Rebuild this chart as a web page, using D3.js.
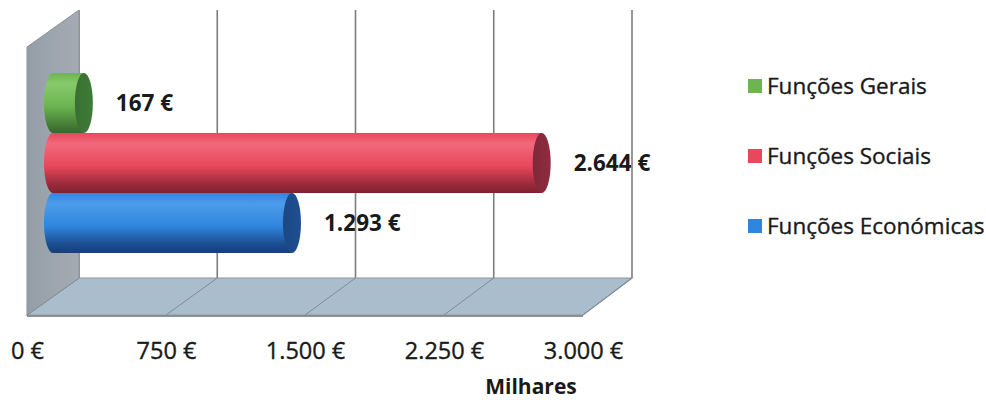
<!DOCTYPE html>
<html>
<head>
<meta charset="utf-8">
<script src="https://cdn.jsdelivr.net/npm/d3@7"></script>
<style>
  html, body { margin: 0; padding: 0; background: #fff; }
  svg { display: block; font-family: "Open Sans", "Noto Sans", sans-serif; }
</style>
</head>
<body>
<svg id="chart" width="986" height="400"></svg>
<script>
// ---- data ----
const series = ["Funções Gerais", "Funções Sociais", "Funções Económicas"];
const values = [167, 2644, 1293];
const colors = ["#6cb552", "#e8475c", "#2f86de"];
const capColors = ["#3f7c38", "#8e2c3e", "#1f4f92"];
const darkColors = ["#477f37", "#9b2a3b", "#1c4d93"];
const lightColors = ["#86c96c", "#f2697b", "#4c9ce9"];
const tickValues = [0, 750, 1500, 2250, 3000];
const axisTitle = "Milhares";

// ---- layout ----
const svg = d3.select("#chart");
const locale = d3.formatLocale({decimal: ",", thousands: ".", grouping: [3], currency: ["", " €"]});
const fmt = locale.format("$,.0f");

const backX = d3.scaleLinear().domain([0, 3000]).range([79, 632]);
const frontX = d3.scaleLinear().domain([0, 3000]).range([27, 583]);
const midX = d3.scaleLinear().domain([0, 3000]).range([53, 607.5]);
const backTop = 10, backBottom = 278, frontBottom = 315;
const y = d3.scaleBand().domain(series).range([73, 253]).paddingInner(0);
const rx = 9;

const defs = svg.append("defs");
series.forEach((s, i) => {
  const g = defs.append("linearGradient").attr("id", "grad" + i)
    .attr("x1", 0).attr("y1", 0).attr("x2", 0).attr("y2", 1);
  g.append("stop").attr("offset", "0%").attr("stop-color", colors[i]);
  g.append("stop").attr("offset", "18%").attr("stop-color", lightColors[i]);
  g.append("stop").attr("offset", "55%").attr("stop-color", colors[i]);
  g.append("stop").attr("offset", "85%").attr("stop-color", darkColors[i]);
  g.append("stop").attr("offset", "100%").attr("stop-color", d3.color(darkColors[i]).darker(0.6));
  const c = defs.append("linearGradient").attr("id", "cap" + i)
    .attr("x1", 0).attr("y1", 0).attr("x2", 1).attr("y2", 0);
  c.append("stop").attr("offset", "0%").attr("stop-color", d3.color(capColors[i]).darker(0.3));
  c.append("stop").attr("offset", "100%").attr("stop-color", capColors[i]);
});
const wallGrad = defs.append("linearGradient").attr("id", "wall")
  .attr("x1", 0).attr("y1", 0).attr("x2", 1).attr("y2", 0);
wallGrad.append("stop").attr("offset", "0%").attr("stop-color", "#959ea8");
wallGrad.append("stop").attr("offset", "100%").attr("stop-color", "#a4abb3");

// data labels (behind gridlines, as in the reference)
svg.append("g").selectAll("text").data(series).join("text")
  .attr("x", (d, i) => midX(values[i]) + rx + 23)
  .attr("y", d => y(d) + y.bandwidth() / 2 + 8)
  .attr("font-size", 22.5).attr("font-weight", 700).attr("fill", "#1a1a1a")
  .text((d, i) => fmt(values[i]));

// back gridlines
svg.append("g").selectAll("line").data(tickValues).join("line")
  .attr("x1", d => backX(d)).attr("x2", d => backX(d))
  .attr("y1", backTop).attr("y2", backBottom)
  .attr("stroke", "#7d7d7d").attr("stroke-width", 1.6);

// floor
const floorPts = [[backX(0), backBottom], [backX(3000), backBottom], [frontX(3000), frontBottom], [frontX(0), frontBottom]];
svg.append("path").attr("d", "M" + floorPts.join("L") + "Z")
  .attr("fill", "#a9bdcc").attr("stroke", "#8d959c").attr("stroke-width", 1.2);
svg.append("g").selectAll("line").data(tickValues).join("line")
  .attr("x1", d => backX(d)).attr("y1", backBottom)
  .attr("x2", d => frontX(d)).attr("y2", frontBottom)
  .attr("stroke", "#7e8c98").attr("stroke-width", 1);
svg.append("line").attr("x1", frontX(0)).attr("x2", frontX(3000))
  .attr("y1", frontBottom + 1).attr("y2", frontBottom + 1)
  .attr("stroke", "#8a9096").attr("stroke-width", 2);

// wall
const wallPts = [[frontX(0), 47], [backX(0), backTop], [backX(0), backBottom], [frontX(0), frontBottom]];
svg.append("path").attr("d", "M" + wallPts.join("L") + "Z")
  .attr("fill", "url(#wall)").attr("stroke", "#8a9199").attr("stroke-width", 1);

// cylinders
const bars = svg.append("g").selectAll("g").data(series).join("g");
bars.append("path")
  .attr("d", (d, i) => {
    const x0 = midX(0), x1 = midX(values[i]);
    const t = y(d), b = y(d) + y.bandwidth(), ry = y.bandwidth() / 2;
    return `M${x1},${t}L${x0},${t}A${rx},${ry} 0 0 0 ${x0},${b}L${x1},${b}Z`;
  })
  .attr("fill", (d, i) => `url(#grad${i})`);
bars.append("ellipse")
  .attr("cx", (d, i) => midX(values[i]))
  .attr("cy", d => y(d) + y.bandwidth() / 2)
  .attr("rx", rx).attr("ry", y.bandwidth() / 2)
  .attr("fill", (d, i) => `url(#cap${i})`);

// x axis
const axis = d3.axisBottom(frontX).tickValues(tickValues).tickFormat(fmt).tickSize(0).tickPadding(0);
const ax = svg.append("g").attr("transform", "translate(0,342)").call(axis);
ax.select(".domain").remove();
ax.selectAll("text").attr("font-size", 23.5).attr("fill", "#1a1a1a")
  .attr("stroke", "#1a1a1a").attr("stroke-width", 0.35)
  .attr("font-family", "Open Sans, sans-serif");

svg.append("text").attr("x", 531).attr("y", 394).attr("text-anchor", "middle")
  .attr("font-size", 21).attr("font-weight", 700).attr("fill", "#1a1a1a").text(axisTitle);

// legend
const leg = svg.append("g").selectAll("g").data(series).join("g")
  .attr("transform", (d, i) => `translate(748,${86 + i * 70})`);
leg.append("rect").attr("x", 0).attr("y", -7).attr("width", 14).attr("height", 14)
  .attr("fill", (d, i) => colors[i]);
leg.append("text").attr("x", 19).attr("y", 8).attr("font-size", 22.5).attr("fill", "#1a1a1a")
  .attr("stroke", "#1a1a1a").attr("stroke-width", 0.35)
  .text(d => d);
</script>
</body>
</html>
